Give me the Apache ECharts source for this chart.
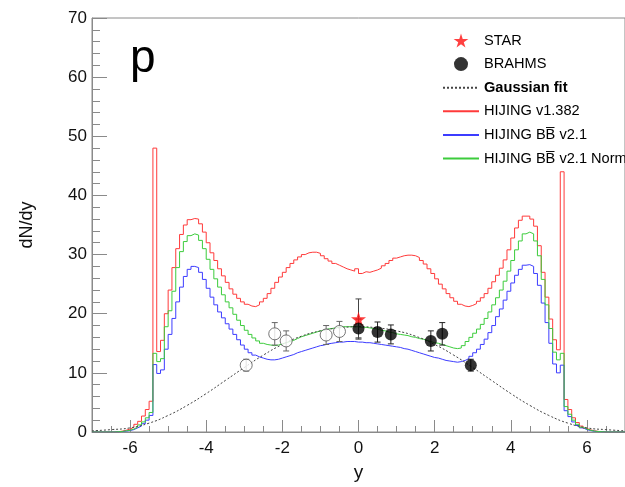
<!DOCTYPE html>
<html><head><meta charset="utf-8">
<script src="https://cdn.jsdelivr.net/npm/echarts@6/dist/echarts.min.js"></script>
<style>html,body{margin:0;padding:0;background:#fff}#c{width:625px;height:487px}</style>
</head><body><div id="c"></div>
<script>
// ---- histogram binning (bin left edges start at -7, width 0.1) ----
const binStart = -7, binWidth = 0.1;
// HIJING v1.382 (red), one row per unit of y
const hijingV1382 = [
  0,0,0,0,0,0,0.05,0.15,0.3,0.5,
  0.8,1.3,1.8,2.7,3.8,5.2,48.0,13.6,15.5,20.0,
  24.0,27.8,31.0,33.4,35.0,35.9,36.1,36.0,35.2,33.8,
  32.0,30.3,29.0,27.6,26.4,25.3,24.2,23.3,22.6,22.0,
  21.6,21.3,21.2,21.5,22.0,22.6,23.4,24.3,25.3,26.2,
  27.0,27.8,28.5,29.1,29.6,30.0,30.3,30.4,30.4,30.2,
  29.8,29.3,28.9,28.5,28.2,27.9,27.6,27.4,27.2,27.6,
  26.8,27.1,27.0,27.2,27.4,27.7,28.1,28.5,29.0,29.4,
  29.6,29.8,29.9,29.9,29.8,29.5,29.0,28.4,27.6,26.8,
  25.9,25.0,24.2,23.4,22.7,22.1,21.6,21.3,21.2,21.4,
  21.7,22.1,22.7,23.4,24.3,25.4,26.5,27.7,29.1,30.8,
  32.8,34.5,35.8,36.5,36.5,36.0,34.8,31.5,27.0,22.8,
  19.1,15.6,13.9,44.0,5.5,3.8,2.4,1.6,1.0,0.6,
  0.35,0.2,0.1,0.05,0,0,0,0,0,0
];
// HIJING BBbar v2.1 (blue)
const hijingBB = [
  0,0,0,0,0,0,0.03,0.08,0.15,0.25,
  0.4,0.7,1.0,1.4,2.0,2.8,11.4,9.9,10.5,14.0,
  16.5,19.2,22.0,24.5,26.3,27.5,28.0,27.8,27.0,25.8,
  24.3,22.8,21.5,20.3,19.3,18.3,17.4,16.5,15.6,14.7,
  14.0,13.4,13.0,12.7,12.5,12.3,12.2,12.2,12.3,12.5,
  12.7,12.9,13.1,13.4,13.6,13.8,14.0,14.2,14.4,14.6,
  14.7,14.9,15.0,15.1,15.2,15.2,15.3,15.3,15.3,15.2,
  15.2,15.1,15.1,15.0,14.9,14.8,14.7,14.6,14.5,14.4,
  14.3,14.1,14.0,13.8,13.6,13.4,13.2,13.0,12.8,12.6,
  12.5,12.3,12.1,12.0,11.9,11.8,11.9,12.1,12.4,12.8,
  13.4,14.0,14.8,15.7,16.8,18.0,19.5,20.8,22.3,23.8,
  25.2,26.5,27.5,28.2,28.3,28.0,26.8,24.8,21.8,18.5,
  15.0,11.5,10.0,11.3,3.6,2.6,1.7,1.1,0.7,0.4,
  0.25,0.12,0.06,0.03,0,0,0,0,0,0
];
// HIJING BBbar v2.1 Norm (green)
const hijingBBNorm = [
  0,0,0,0,0,0,0.05,0.1,0.2,0.3,
  0.5,0.8,1.2,1.7,2.4,3.3,13.3,11.9,12.4,17.8,
  20.5,23.8,27.8,30.5,32.2,33.2,33.5,33.3,32.4,31.0,
  29.2,27.5,25.9,24.5,23.2,22.0,21.0,19.9,18.9,18.0,
  17.2,16.5,15.9,15.4,15.0,14.8,14.7,14.6,14.7,14.9,
  15.1,15.3,15.5,15.8,16.1,16.3,16.5,16.7,16.9,17.1,
  17.2,17.4,17.5,17.6,17.7,17.8,17.8,17.8,17.8,17.8,
  17.7,17.7,17.6,17.5,17.4,17.2,17.1,16.9,16.8,16.6,
  16.5,16.4,16.3,16.1,16.0,15.8,15.7,15.5,15.3,15.1,
  15.0,14.8,14.6,14.4,14.2,14.1,14.2,14.6,15.3,16.0,
  16.7,17.4,18.2,19.2,20.3,21.5,22.7,24.0,25.5,27.2,
  29.0,30.8,32.3,33.5,33.8,33.5,32.3,29.8,25.8,21.5,
  17.5,13.5,12.2,13.3,4.3,3.0,2.0,1.3,0.8,0.5,
  0.3,0.15,0.08,0.04,0,0,0,0,0,0
];
// Gaussian fit curve, read every 0.5 in y from -7 to 7
const fitX = [-7,-6.5,-6,-5.5,-5,-4.5,-4,-3.5,-3,-2.5,-2,-1.5,-1,-0.5,0,0.5,1,1.5,2,2.5,3,3.5,4,4.5,5,5.5,6,6.5,7];
const fitY = [0.2,0.4,0.7,1.5,2.8,4.5,6.5,8.7,10.9,13.0,14.8,16.2,17.1,17.6,17.8,17.6,17.1,16.2,14.8,13.0,10.9,8.7,6.5,4.5,2.8,1.5,0.7,0.4,0.2];
// BRAHMS measured (filled) and reflected (open)
const brahmsX = [0.0, 0.5, 0.85, 1.9, 2.2, 2.95];
const brahmsY = [17.5, 16.9, 16.5, 15.4, 16.6, 11.3];
const brahmsErr = [1.6, 1.7, 1.6, 1.7, 1.9, 1.0];
const reflX = [-0.5, -0.85, -1.9, -2.2, -2.95];
const reflY = [17.0, 16.4, 15.4, 16.6, 11.3];
const reflErr = [1.7, 1.6, 1.7, 1.9, 1.0];
// STAR
const starX = [0.0];
const starY = [19.1];
const starErr = [3.4];
// axis ticks
const xMajorTicks = [-6,-4,-2,0,2,4,6];

const FONT = 'Liberation Sans, Arial, Helvetica, sans-serif';
const BB = 'BB\u0305';
const names = {
  star: 'STAR', brahms: 'BRAHMS', fit: 'Gaussian fit',
  red: 'HIJING v1.382', blue: 'HIJING ' + BB + ' v2.1', green: 'HIJING ' + BB + ' v2.1 Norm'
};

function histPoints(vals) {
  const pts = vals.map((v, i) => [binStart + i * binWidth, v]);
  pts.push([binStart + vals.length * binWidth, vals[vals.length - 1]]);
  return pts;
}
function errorSeries(xs, ys, es, color, z) {
  return {
    type: 'custom', silent: true, z: z,
    data: xs.map((x, i) => [x, ys[i], es[i]]),
    encode: { x: 0, y: 1 },
    renderItem: function (params, api) {
      const x = api.value(0), y = api.value(1), e = api.value(2);
      const lo = api.coord([x, y - e]), hi = api.coord([x, y + e]);
      const cap = 3, st = { stroke: color, lineWidth: 1 };
      return { type: 'group', children: [
        { type: 'line', shape: { x1: lo[0], y1: lo[1], x2: hi[0], y2: hi[1] }, style: st },
        { type: 'line', shape: { x1: lo[0] - cap, y1: lo[1], x2: lo[0] + cap, y2: lo[1] }, style: st },
        { type: 'line', shape: { x1: hi[0] - cap, y1: hi[1], x2: hi[0] + cap, y2: hi[1] }, style: st }
      ]};
    }
  };
}
const starPath = 'path://M50,0 L61,35 L98,35 L68,57 L79,91 L50,70 L21,91 L32,57 L2,35 L39,35 Z';
const axisGray = '#8a8a8a';
const noSym = { opacity: 0 };

const chart = echarts.init(document.getElementById('c'), null, { renderer: 'canvas' });
chart.setOption({
  animation: false,
  backgroundColor: '#fff',
  grid: { left: 92, top: 18, width: 534, height: 418, show: true, borderColor: axisGray, borderWidth: 1, containLabel: false },
  xAxis: [{
    type: 'value', min: -7, max: 7, position: 'bottom',
    name: 'y', nameLocation: 'middle', nameGap: 31,
    nameTextStyle: { fontFamily: FONT, fontSize: 19, color: '#111' },
    axisLine: { show: true, onZero: false, lineStyle: { color: axisGray } },
    axisTick: { show: true, inside: true, length: 12, customValues: xMajorTicks, lineStyle: { color: axisGray } },
    axisLabel: { customValues: xMajorTicks, fontFamily: FONT, fontSize: 17, color: '#111', margin: 8 },
    splitLine: { show: false }
  }, {
    type: 'value', min: -7, max: 7, interval: 0.5, position: 'bottom',
    axisLine: { show: false, onZero: false },
    axisTick: { show: true, inside: true, length: 6, lineStyle: { color: axisGray } },
    axisLabel: { show: false }, splitLine: { show: false }
  }],
  yAxis: {
    type: 'value', min: 0, max: 70, interval: 10, position: 'left',
    name: 'dN/dy', nameLocation: 'middle', nameGap: 56,
    nameTextStyle: { fontFamily: FONT, fontSize: 18, color: '#111' },
    axisLine: { show: true, onZero: false, lineStyle: { color: axisGray } },
    axisTick: { show: true, inside: true, length: 15, lineStyle: { color: axisGray } },
    minorTick: { show: true, splitNumber: 5, length: 8, lineStyle: { color: axisGray } },
    axisLabel: { fontFamily: FONT, fontSize: 17, color: '#111', margin: 5 },
    splitLine: { show: false }
  },
  legend: {
    orient: 'vertical', left: 442, top: 33, padding: 0, itemWidth: 36, itemHeight: 14, itemGap: 8.6,
    selectedMode: false,
    textStyle: { fontFamily: FONT, fontSize: 14.6, color: '#000' },
    data: [
      { name: names.star }, { name: names.brahms },
      { name: names.fit, itemStyle: noSym, textStyle: { fontWeight: 'bold' } },
      { name: names.red, itemStyle: noSym }, { name: names.blue, itemStyle: noSym }, { name: names.green, itemStyle: noSym }
    ]
  },
  graphic: [{ type: 'text', left: 130, top: 36, style: { text: 'p', font: '46px ' + FONT, fill: '#000' } }],
  series: [
    { name: names.red, type: 'line', step: 'end', symbol: 'none', data: histPoints(hijingV1382),
      lineStyle: { color: '#ff3a3a', width: 1 }, itemStyle: { color: '#ff3a3a' }, z: 2 },
    { name: names.blue, type: 'line', step: 'end', symbol: 'none', data: histPoints(hijingBB),
      lineStyle: { color: '#3c3cff', width: 1 }, itemStyle: { color: '#3c3cff' }, z: 3 },
    { name: names.green, type: 'line', step: 'end', symbol: 'none', data: histPoints(hijingBBNorm),
      lineStyle: { color: '#3ccc3c', width: 1 }, itemStyle: { color: '#3ccc3c' }, z: 4 },
    { name: names.fit, type: 'line', smooth: true, symbol: 'none', data: fitX.map((x, i) => [x, fitY[i]]),
      lineStyle: { color: '#444', width: 1, type: [2, 2] }, itemStyle: { color: '#444' }, z: 5 },
    errorSeries(reflX, reflY, reflErr, '#666', 6),
    errorSeries(brahmsX, brahmsY, brahmsErr, '#222', 6),
    errorSeries(starX, starY, starErr, '#444', 6),
    { name: 'BRAHMS reflected', type: 'scatter', symbol: 'circle', symbolSize: 12,
      data: reflX.map((x, i) => [x, reflY[i]]),
      itemStyle: { color: '#fff', borderColor: '#555', borderWidth: 1 }, z: 7 },
    { name: names.star, type: 'scatter', symbol: starPath, symbolSize: 15,
      data: starX.map((x, i) => [x, starY[i]]), itemStyle: { color: '#ff1010' }, z: 7 },
    { name: names.brahms, type: 'scatter', symbol: 'circle', symbolSize: 12,
      data: brahmsX.map((x, i) => [x, brahmsY[i]]), itemStyle: { color: '#000' }, z: 8 }
  ]
});
</script></body></html>
